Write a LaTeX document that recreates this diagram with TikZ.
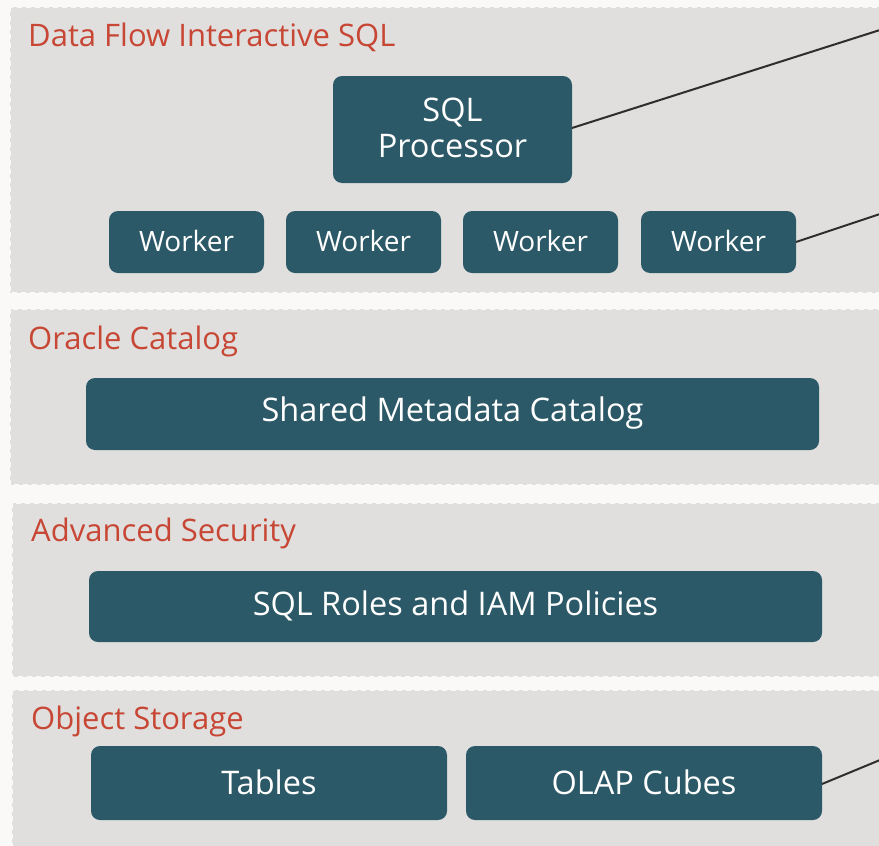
\documentclass[tikz,border=0pt]{standalone}
\usepackage{fontspec}
\setmainfont{Open Sans}
\definecolor{bgc}{HTML}{FAF9F7}
\definecolor{panelc}{HTML}{E0DFDE}
\definecolor{boxc}{HTML}{2C5967}
\definecolor{titlec}{HTML}{C74634}
\definecolor{linec}{HTML}{312D2A}
\begin{document}
\begin{tikzpicture}[x=1pt,y=-1pt,
  panel/.style={fill=panelc,draw=bgc,line width=1.6pt,dash pattern=on 5pt off 4pt},
  box/.style={fill=boxc,rounded corners=9pt,draw=none},
  boxtext/.style={text=white,font=\fontsize{32.5}{36}\selectfont,align=center},
  wtext/.style={text=white,font=\fontsize{28}{32}\selectfont},
  ttl/.style={text=titlec,font=\fontsize{31}{35}\selectfont,anchor=base west,inner sep=0pt},
  conn/.style={draw=linec,line width=2pt}]
\useasboundingbox (0,0) rectangle (879,846);
\clip (0,0) rectangle (879,846);
\fill[bgc] (0,0) rectangle (879,846);
% panels
\path[panel] (10,7) rectangle (900,293);
\path[panel] (10,309) rectangle (900,485);
\path[panel] (12,503) rectangle (900,677);
\path[panel] (12,690) rectangle (900,870);
% titles
\node[ttl] (t1) at (28,46) {Data Flow Interactive SQL};
\node[ttl] (t2) at (28,349) {Oracle Catalog};
\node[ttl] (t3) at (31,541) {Advanced Security};
\node[ttl] (t4) at (31,729) {Object Storage};
% boxes
\path[box] (333,76) rectangle (572,183);
\node[boxtext] (sqlp) at (452.5,128) {SQL\\Processor};
\coordinate (sqlpE) at (572,128);
\path[box] (109,211) rectangle (264,273);
\path[box] (286,211) rectangle (441,273);
\path[box] (463,211) rectangle (618,273);
\path[box] (641,211) rectangle (796,273);
\node[wtext] (w1) at (186.5,241) {Worker};
\node[wtext] (w2) at (363.5,241) {Worker};
\node[wtext] (w3) at (540.5,241) {Worker};
\node[wtext] (w4) at (718.5,241) {Worker};
\coordinate (w4E) at (796,242);
\path[box] (86,378) rectangle (819,450);
\node[boxtext] (smc) at (452.5,413) {Shared Metadata Catalog};
\path[box] (89,571) rectangle (822,642);
\node[boxtext] (roles) at (455.5,605.5) {SQL Roles and IAM Policies};
\path[box] (91,746) rectangle (447,820);
\node[boxtext] (tables) at (269,782) {Tables};
\path[box] (466,746) rectangle (822,820);
\node[boxtext] (olap) at (644,782) {OLAP Cubes};
\coordinate (olapE) at (822,784);
% connectors
\coordinate (e1) at (880,30);
\coordinate (e2) at (880,214);
\coordinate (e3) at (880,760);
\draw[conn] (sqlpE) -- (e1);
\draw[conn] (w4E) -- (e2);
\draw[conn] (olapE) -- (e3);
\end{tikzpicture}
\end{document}
